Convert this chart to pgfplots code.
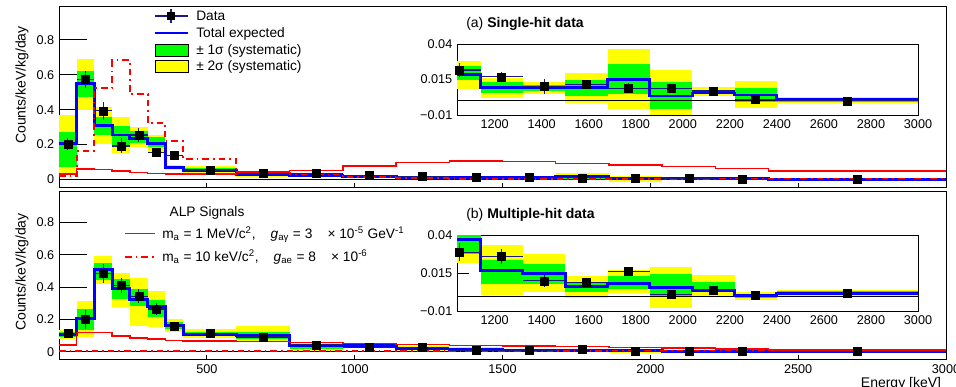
\documentclass[border=0pt]{standalone}
\usepackage{fontspec}
\setmainfont{Liberation Sans}
\usepackage{pgfplots}
\pgfplotsset{compat=1.18}
\usepackage{pgfplotstable}

\definecolor{ryellow}{RGB}{255,255,0}
\definecolor{rgreen}{RGB}{0,255,0}
\definecolor{rblue}{RGB}{0,0,255}
\definecolor{rred}{RGB}{255,0,0}
\definecolor{errnavy}{RGB}{25,25,140}

% bin left edges; last row repeats at 3000
\pgfplotstableread{
x blue red dd
0 0.204 0.032 0.020
60 0.552 0.060 0.164
120 0.307 0.058 0.525
180 0.255 0.048 0.684
240 0.236 0.040 0.489
300 0.204 0.034 0.322
360 0.070 0.032 0.220
420 0.0505 0.031 0.1175
600 0.030 0.042 0.040
780 0.024 0.050 0.030
960 0.0185 0.077 0.0126
1140 0.0094 0.0985 0.006
1320 0.0094 0.106 0.005
1500 0.0092 0.104 0.004
1680 0.0152 0.093 0.004
1860 0.0034 0.083 0.003
2040 0.0055 0.0735 0.003
2220 0.0041 0.062 0.002
2400 0.0011 0.0487 0.002
3000 0.0011 0.0487 0.002
}\toptab

\pgfplotstableread{
x y ex ey
30 0.204 30 0.033
90 0.574 30 0.048
150 0.393 30 0.053
210 0.192 30 0.043
270 0.255 30 0.038
330 0.154 30 0.026
390 0.137 30 0.020
510 0.0545 90 0.010
690 0.034 90 0.008
870 0.036 90 0.007
1050 0.0217 90 0.005
1230 0.0169 90 0.0035
1410 0.0101 90 0.005
1590 0.0113 90 0.003
1770 0.0087 90 0.0035
1950 0.0087 90 0.002
2130 0.0069 90 0.002
2310 0.0009 90 0.0015
2700 0.0000 300 0.001
}\topdata

\pgfplotstableread{
x blue red dd
0 0.1075 0.041 0.006
60 0.206 0.1175 0.006
120 0.509 0.1175 0.006
180 0.392 0.098 0.006
240 0.324 0.086 0.006
300 0.278 0.078 0.006
360 0.165 0.070 0.006
420 0.108 0.067 0.006
600 0.100 0.062 0.005
780 0.0414 0.058 0.005
960 0.0371 0.052 0.005
1140 0.0168 0.045 0.005
1320 0.0146 0.040 0.004
1500 0.0064 0.035 0.004
1680 0.0082 0.031 0.004
1860 0.0053 0.027 0.003
2040 0.0037 0.022 0.003
2220 0.0003 0.018 0.003
2400 0.0015 0.012 0.002
3000 0.0015 0.012 0.002
}\bottab

\pgfplotstableread{
x y ex ey
30 0.114 30 0.020
90 0.200 30 0.060
150 0.485 30 0.059
210 0.408 30 0.046
270 0.344 30 0.043
330 0.264 30 0.040
390 0.155 30 0.028
510 0.114 90 0.012
690 0.091 90 0.010
870 0.043 90 0.008
1050 0.0290 90 0.006
1230 0.0263 90 0.005
1410 0.0100 90 0.004
1590 0.0087 90 0.003
1770 0.0161 90 0.003
1950 0.0010 90 0.002
2130 0.0040 90 0.002
2310 0.0003 90 0.0015
2700 0.0015 300 0.001
}\botdata

% one bin of the systematic bands: x1 x2 (2sigma lo hi) (1sigma lo hi)
\newcommand{\bin}[6]{%
  \addplot[fill=ryellow, draw=none] coordinates {(#1,#3) (#2,#3) (#2,#4) (#1,#4)} -- cycle;
  \addplot[fill=rgreen, draw=none] coordinates {(#1,#5) (#2,#5) (#2,#6) (#1,#6)} -- cycle;
}
\newcommand{\topbands}{%
\bin{0}{60}{0.026}{0.370}{0.074}{0.274}
\bin{60}{120}{0.399}{0.689}{0.471}{0.624}
\bin{120}{180}{0.204}{0.418}{0.255}{0.360}
\bin{180}{240}{0.150}{0.357}{0.198}{0.307}
\bin{240}{300}{0.185}{0.299}{0.211}{0.280}
\bin{300}{360}{0.154}{0.255}{0.185}{0.242}
\bin{360}{420}{0.055}{0.085}{0.062}{0.078}
\bin{420}{600}{0.032}{0.079}{0.045}{0.068}
\bin{600}{780}{0.013}{0.045}{0.020}{0.040}
\bin{780}{960}{0.012}{0.036}{0.017}{0.031}
\bin{960}{1140}{0.0083}{0.0280}{0.0145}{0.0245}
\bin{1140}{1320}{0.0018}{0.0159}{0.0055}{0.0129}
\bin{1320}{1500}{0.0048}{0.0129}{0.0071}{0.0113}
\bin{1500}{1680}{-0.0014}{0.0194}{0.0037}{0.0145}
\bin{1680}{1860}{-0.0056}{0.0365}{0.0048}{0.0256}
\bin{1860}{2040}{-0.0120}{0.0217}{-0.0056}{0.0129}
\bin{2040}{2220}{0.0037}{0.0094}{0.0053}{0.0076}
\bin{2220}{2400}{-0.0051}{0.0136}{-0.0010}{0.0090}
\bin{2400}{3000}{-0.0015}{0.0025}{-0.0005}{0.0018}
}
\newcommand{\botbands}{%
\bin{0}{60}{0.077}{0.134}{0.089}{0.124}
\bin{60}{120}{0.089}{0.313}{0.134}{0.262}
\bin{120}{180}{0.4165}{0.592}{0.443}{0.550}
\bin{180}{240}{0.2745}{0.488}{0.324}{0.4476}
\bin{240}{300}{0.159}{0.4535}{0.2825}{0.386}
\bin{300}{360}{0.1546}{0.377}{0.2127}{0.320}
\bin{360}{420}{0.124}{0.200}{0.1385}{0.185}
\bin{420}{600}{0.083}{0.1385}{0.096}{0.125}
\bin{600}{780}{0.062}{0.159}{0.077}{0.124}
\bin{780}{960}{0.000}{0.062}{0.020}{0.049}
\bin{960}{1140}{0.022}{0.052}{0.028}{0.046}
\bin{1140}{1320}{0.0008}{0.0337}{0.0082}{0.0240}
\bin{1320}{1500}{0.0026}{0.0280}{0.0076}{0.0211}
\bin{1500}{1680}{-0.0014}{0.0132}{0.0026}{0.0094}
\bin{1680}{1860}{0.0020}{0.0170}{0.0045}{0.0130}
\bin{1860}{2040}{-0.0080}{0.0190}{0.0000}{0.0145}
\bin{2040}{2220}{-0.0010}{0.0136}{0.0024}{0.0090}
\bin{2220}{2400}{-0.0026}{0.0025}{-0.0015}{0.0015}
\bin{2400}{3000}{-0.0003}{0.0042}{0.0005}{0.0030}
}

\pgfplotsset{
  mainax/.style={
    scale only axis, width=665.25pt, xmin=0, xmax=3000, anchor=south west,
    axis line style={black, line width=0.75pt},
    xtick={500,1000,1500,2000,2500,3000}, ytick={0,0.2,0.4,0.6,0.8},
    tick align=inside, xtick pos=lower, ytick pos=left,
    ytick style={black, line width=0.75pt, /pgfplots/major tick length=21pt},
    xtick style={black, line width=0.75pt, /pgfplots/major tick length=3.75pt},
    minor tick num=0, scaled ticks=false,
    tick label style={font=\fontsize{9.5}{11}\selectfont},
    /pgf/number format/assume math mode=true,
    /pgf/number format/1000 sep={},
  },
  insetax/.style={
    scale only axis, width=345.75pt, xmin=1040, xmax=3000, ymin=-0.01, ymax=0.04,
    anchor=south west,
    axis background/.style={fill=white},
    axis line style={black, line width=0.6pt},
    xtick={1200,1400,1600,1800,2000,2200,2400,2600,2800,3000},
    ytick={-0.01,0.015,0.04}, yticklabels={−0.01,0.015,0.04},
    scaled ticks=false,
    tick align=inside, xtick pos=lower, ytick pos=left,
    ytick style={black, line width=0.6pt, /pgfplots/major tick length=9pt},
    xtick style={draw=none},
    tick label style={font=\fontsize{9.5}{11}\selectfont},
    /pgf/number format/assume math mode=true,
    /pgf/number format/1000 sep={},
  },
}

% #1 lines table, #2 data table
\newcommand{\expdata}[2]{%
  \addplot[const plot mark left, rblue, line width=2.2pt] table[x=x,y=blue]{#1};
  \addplot[only marks, mark=square*, mark size=3pt, mark options={draw=black, fill=black},
    error bars/.cd, x dir=both, x explicit, y dir=both, y explicit,
    error mark=none, error bar style={color=errnavy, line width=0.8pt}]
    table[x=x, y=y, x error=ex, y error=ey]{#2};
}
\newcommand{\signals}[1]{%
  \addplot[const plot mark left, rred, line width=1.1pt] table[x=x,y=red]{#1};
  \addplot[const plot mark left, rred, line width=1.5pt, dash pattern=on 5pt off 3pt on 1.2pt off 3pt] table[x=x,y=dd]{#1};
}

\def\lfont{\fontsize{10.3}{12}\selectfont}

\begin{document}
\begin{tikzpicture}
\useasboundingbox (0,0) rectangle (717pt,289.5pt);

% ---- top panel ----
\begin{axis}[mainax, at={(44.25pt,148.875pt)}, height=135.375pt,
  ymin=-0.046, ymax=0.989, xticklabels={}]
\topbands
\draw[black, line width=0.7pt] (axis cs:0,0) -- (axis cs:3000,0);
\addplot[const plot mark left, rblue, line width=2.2pt] table[x=x,y=blue]{\toptab};
\signals{\toptab}
\addplot[only marks, mark=square*, mark size=3pt, mark options={draw=black, fill=black},
    error bars/.cd, x dir=both, x explicit, y dir=both, y explicit,
    error mark=none, error bar style={color=errnavy, line width=0.8pt}]
    table[x=x, y=y, x error=ex, y error=ey]{\topdata};
\end{axis}
\begin{axis}[insetax, at={(342.75pt,203.25pt)}, height=53.25pt]
\topbands
\draw[black, line width=0.6pt] (axis cs:1040,0) -- (axis cs:3000,0);
\expdata{\toptab}{\topdata}
\end{axis}

% ---- bottom panel ----
\begin{axis}[mainax, at={(44.25pt,19.875pt)}, height=126.375pt,
  ymin=-0.048, ymax=0.9935]
\botbands
\draw[black, line width=0.7pt] (axis cs:0,0) -- (axis cs:3000,0);
\addplot[const plot mark left, rblue, line width=2.2pt] table[x=x,y=blue]{\bottab};
\signals{\bottab}
\addplot[only marks, mark=square*, mark size=3pt, mark options={draw=black, fill=black},
    error bars/.cd, x dir=both, x explicit, y dir=both, y explicit,
    error mark=none, error bar style={color=errnavy, line width=0.8pt}]
    table[x=x, y=y, x error=ex, y error=ey]{\botdata};
\end{axis}
\begin{axis}[insetax, at={(342.75pt,56.25pt)}, height=56.625pt]
\botbands
\draw[black, line width=0.6pt] (axis cs:1040,0) -- (axis cs:3000,0);
\expdata{\bottab}{\botdata}
\end{axis}

% ---- top legend ----
\draw[errnavy, line width=0.8pt] (116.25pt,277.5pt) -- (141pt,277.5pt);
\draw[errnavy, line width=0.8pt] (128.25pt,272.25pt) -- (128.25pt,282.75pt);
\fill[black] (125.25pt,274.5pt) rectangle (131.25pt,280.5pt);
\node[anchor=base west, inner sep=0pt, font=\lfont] at (147pt,273.8pt) {Data};
\draw[rblue, line width=2.2pt] (116.25pt,264.75pt) -- (141pt,264.75pt);
\node[anchor=base west, inner sep=0pt, font=\lfont] at (147pt,261pt) {Total expected};
\filldraw[fill=rgreen, draw=black, line width=0.6pt] (116.25pt,247.5pt) rectangle (141pt,256.5pt);
\node[anchor=base west, inner sep=0pt, font=\lfont] at (147pt,248.3pt) {± 1σ (systematic)};
\filldraw[fill=ryellow, draw=black, line width=0.6pt] (116.25pt,235.5pt) rectangle (141pt,244.5pt);
\node[anchor=base west, inner sep=0pt, font=\lfont] at (147pt,236.3pt) {± 2σ (systematic)};

% ---- bottom legend ----
\node[anchor=base, inner sep=0pt, font=\lfont] at (155.25pt,127.5pt) {ALP Signals};
\draw[rred, line width=1.1pt] (93.75pt,114.5pt) -- (116.25pt,114.5pt);
\node[anchor=base west, inner sep=0pt, font=\lfont] at (121.5pt,110.8pt)
  {m\textsubscript{a} = 1 MeV/c\textsuperscript{2},\hspace{1.1em}\textit{g}\textsubscript{aγ} = 3\hspace{1.1em}× 10\textsuperscript{-5} GeV\textsuperscript{-1}};
\draw[rred, line width=1.5pt, dash pattern=on 5pt off 3pt on 1.2pt off 3pt] (93.75pt,97pt) -- (116.25pt,97pt);
\node[anchor=base west, inner sep=0pt, font=\lfont] at (121.5pt,93.3pt)
  {m\textsubscript{a} = 10 keV/c\textsuperscript{2},\hspace{1.1em}\textit{g}\textsubscript{ae} = 8\hspace{1.1em}× 10\textsuperscript{-6}};

% ---- panel titles ----
\node[anchor=base west, inner sep=0pt, font=\fontsize{10.5}{12}\selectfont] at (349.5pt,268.5pt) {(a) \textbf{Single-hit data}};
\node[anchor=base west, inner sep=0pt, font=\fontsize{10.5}{12}\selectfont] at (349.5pt,126pt) {(b) \textbf{Multiple-hit data}};

% ---- axis titles ----
\node[rotate=90, anchor=east, inner sep=0pt, font=\fontsize{10.5}{12}\selectfont] at (16.5pt,270pt) {Counts/keV/kg/day};
\node[rotate=90, anchor=east, inner sep=0pt, font=\fontsize{10.5}{12}\selectfont] at (16.5pt,129.75pt) {Counts/keV/kg/day};
\node[anchor=north east, inner sep=0pt, font=\fontsize{10.5}{12}\selectfont] at (706pt,7pt) {Energy [keV]};
\end{tikzpicture}
\end{document}
